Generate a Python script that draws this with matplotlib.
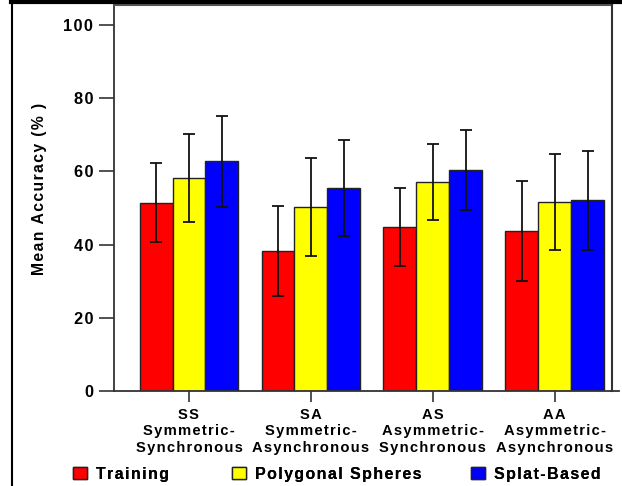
import matplotlib
matplotlib.use("Agg")
import matplotlib.pyplot as plt
import numpy as np
from matplotlib.lines import Line2D
from matplotlib.patches import Patch

plt.rcParams['font.family'] = ['Liberation Sans', 'DejaVu Sans']
plt.rcParams['font.weight'] = 'bold'

categories = ["SS\nSymmetric-\nSynchronous", "SA\nSymmetric-\nAsynchronous",
              "AS\nAsymmetric-\nSynchronous", "AA\nAsymmetric-\nAsynchronous"]
series_names = ["Training", "Polygonal Spheres", "Splat-Based"]
training = [51.4, 38.3, 44.8, 43.8]
training_err = [10.8, 12.2, 10.6, 13.7]
polygonal = [58.3, 50.4, 57.2, 51.7]
polygonal_err = [12.0, 13.4, 10.4, 13.2]
splat = [62.8, 55.5, 60.3, 52.1]
splat_err = [12.4, 13.0, 10.9, 13.5]
yticks = [0, 20, 40, 60, 80, 100]


def spaced(s):
    # emulate letter tracking with hair spaces
    return "\n".join("\u200a".join(line) for line in s.split("\n"))


colors = ["#ff0000", "#ffff00", "#0000ff"]
W, H = 622, 486
fig = plt.figure(figsize=(W / 100, H / 100), dpi=100)
ax = fig.add_axes([114 / W, (H - 391) / H, (612 - 114) / W, (391 - 5) / H])

x = np.arange(len(categories))
bw = 0.27
vals = [training, polygonal, splat]
errs = [training_err, polygonal_err, splat_err]
for i in range(3):
    ax.bar(x + (i - 1) * bw, vals[i], bw, color=colors[i], edgecolor="#222222",
           linewidth=1.0, zorder=2)
    ax.errorbar(x + (i - 1) * bw, vals[i], yerr=errs[i], fmt="none", ecolor="#111111",
                elinewidth=1.3, capsize=4, capthick=1.3, zorder=3)

ax.set_xlim(-0.615, 3.47)
ax.set_ylim(0, 105.5)
ax.set_yticks(yticks)
ax.set_yticklabels([spaced(str(t)) for t in yticks], fontsize=11.8, fontweight='bold')
ax.set_xticks(x)
ax.set_xticklabels([spaced(c) for c in categories], fontsize=10.6, fontweight='bold',
                   linespacing=1.22)
ax.tick_params(axis='y', length=11, width=1.2, pad=4, color="#333333")
ax.tick_params(axis='x', length=8, width=1.2, pad=4, color="#333333")
for s in ['top', 'right']:
    ax.spines[s].set_visible(False)
ax.spines['left'].set_color("#333333")
ax.spines['left'].set_linewidth(1.3)
ax.spines['bottom'].set_color("#333333")
ax.spines['bottom'].set_linewidth(1.3)
ax.set_ylabel(spaced("Mean Accuracy (% )"), fontsize=11.3, fontweight='bold',
              va='center', ha='center')
ax.yaxis.set_label_coords((40 - 114) / 498, (391 - 189) / 386)


def fx(px):
    return px / W


def fy(py):
    return 1 - py / H


# frame lines
fig.add_artist(Line2D([fx(114), fx(611.5)], [fy(5.5), fy(5.5)], color="#555555", lw=1.5))
fig.add_artist(Line2D([fx(611.5), fx(611.5)], [fy(5.5), fy(391)], color="#333333", lw=1.5))
fig.add_artist(Line2D([fx(611), fx(619)], [fy(391), fy(391)], color="#333333", lw=1.3))
# outer border
fig.add_artist(Line2D([fx(11.5), fx(11.5)], [fy(2), fy(486)], color="black", lw=1.5))
fig.add_artist(Line2D([fx(11), fx(622)], [fy(2), fy(2)], color="black", lw=3))

legend_x = [73, 232, 471]
for i in range(3):
    h = Patch(facecolor=colors[i], edgecolor="#222222", linewidth=1.0)
    lg = fig.legend([h], [spaced(series_names[i])], loc='center left',
                    bbox_to_anchor=(fx(legend_x[i]), fy(474)), borderpad=0, borderaxespad=0,
                    frameon=False, handlelength=0.85, handleheight=0.85,
                    handletextpad=0.6, prop={'weight': 'bold', 'size': 11.5})
    fig.add_artist(lg)

fig.savefig("out.png", dpi=100)
